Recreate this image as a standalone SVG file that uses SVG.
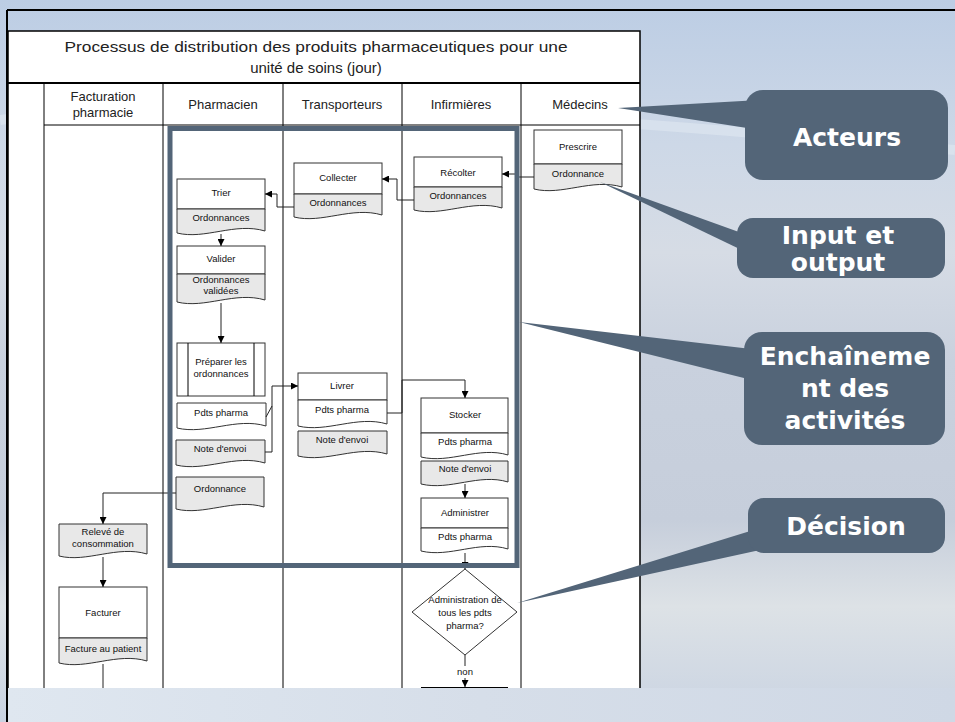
<svg xmlns="http://www.w3.org/2000/svg" width="955" height="722" viewBox="0 0 955 722">
<style>
.ln{stroke:#000;stroke-width:1;fill:none}
.cn{stroke:#222;stroke-width:1;fill:none}
.box{fill:#fff;stroke:#333;stroke-width:1}
.doc{fill:#e8e8e8;stroke:#333;stroke-width:1}
.docw{fill:#fff;stroke:#333;stroke-width:1}
.t{font-family:"Liberation Sans",Arial,sans-serif;font-size:9.5px;text-anchor:middle;fill:#111}
.h{font-family:"Liberation Sans",Arial,sans-serif;font-size:13px;text-anchor:middle;fill:#222}
.ti{font-family:"Liberation Sans",Arial,sans-serif;font-size:15px;text-anchor:middle;fill:#222}
.call{fill:#536578}
.ct{font-family:"DejaVu Sans",sans-serif;font-weight:bold;font-size:25px;fill:#fff;text-anchor:middle}
</style>
<defs>
<linearGradient id="bg" x1="0" y1="0" x2="0" y2="1">
<stop offset="0" stop-color="#bccde4"/>
<stop offset="0.2" stop-color="#cdd8e7"/>
<stop offset="0.35" stop-color="#d6dce5"/>
<stop offset="0.5" stop-color="#c9d1de"/>
<stop offset="0.72" stop-color="#c6cedb"/>
<stop offset="0.84" stop-color="#dde2e6"/>
<stop offset="1" stop-color="#c9d3e2"/>
</linearGradient>
<linearGradient id="band" x1="0" y1="0" x2="1" y2="0">
<stop offset="0" stop-color="#dfe7f0"/>
<stop offset="0.5" stop-color="#d6dee9"/>
<stop offset="1" stop-color="#cfd8e5"/>
</linearGradient>
<marker id="ah" viewBox="0 0 8 8" refX="8" refY="4" markerWidth="7" markerHeight="7" orient="auto" markerUnits="userSpaceOnUse">
<path d="M0,0 L8,4 L0,8 Z" fill="#000"/>
</marker>
</defs>
<rect width="955" height="722" fill="url(#bg)"/>
<path d="M0,120 C200,90 500,110 955,150" stroke="#e4ebf3" stroke-width="10" fill="none" opacity="0.5"/>
<line x1="7" y1="10" x2="955" y2="10" stroke="#000" stroke-width="2"/>

<g id="panel">
<rect x="8" y="31" width="632" height="690" fill="#fff" stroke="#000" stroke-width="1.5"/>
<line x1="8" y1="83" x2="640" y2="83" stroke="#000" stroke-width="2"/>
<text class="ti" x="316" y="52" textLength="503" lengthAdjust="spacingAndGlyphs">Processus de distribution des produits pharmaceutiques pour une</text>
<text class="ti" x="316" y="73">unité de soins (jour)</text>
<line class="ln" x1="44" y1="125" x2="640" y2="125"/>
<line class="ln" x1="44" y1="83" x2="44" y2="690"/>
<line class="ln" x1="163" y1="83" x2="163" y2="690"/>
<line class="ln" x1="283" y1="83" x2="283" y2="690"/>
<line class="ln" x1="402" y1="83" x2="402" y2="690"/>
<line class="ln" x1="521" y1="83" x2="521" y2="690"/>
<text class="h" x="103" y="101">Facturation</text>
<text class="h" x="103" y="117">pharmacie</text>
<text class="h" x="223" y="109">Pharmacien</text>
<text class="h" x="342" y="109">Transporteurs</text>
<text class="h" x="461" y="109">Infirmières</text>
<text class="h" x="580" y="109">Médecins</text>
</g>

<g id="prescrire">
<rect class="box" x="534" y="130" width="88" height="34"/>
<path class="doc" d="M534,164 H622 V187 C592,178 562,196 534,189 Z"/>
<text class="t" x="578" y="150">Prescrire</text>
<text class="t" x="578" y="177">Ordonnance</text>
</g>
<g id="recolter">
<rect class="box" x="414" y="157" width="88" height="30"/>
<path class="doc" d="M414,187 H502 V208 C472,199 442,217 414,210 Z"/>
<text class="t" x="458" y="176">Récolter</text>
<text class="t" x="458" y="199">Ordonnances</text>
</g>
<g id="collecter">
<rect class="box" x="294" y="163" width="88" height="31"/>
<path class="doc" d="M294,194 H382 V215 C352,206 322,224 294,217 Z"/>
<text class="t" x="338" y="181">Collecter</text>
<text class="t" x="338" y="206">Ordonnances</text>
</g>
<g id="trier">
<rect class="box" x="177" y="179" width="88" height="30"/>
<path class="doc" d="M177,209 H265 V231 C235,222 205,240 177,233 Z"/>
<text class="t" x="221" y="196">Trier</text>
<text class="t" x="221" y="221">Ordonnances</text>
</g>
<g id="valider">
<rect class="box" x="177" y="246" width="88" height="28"/>
<path class="doc" d="M177,274 H265 V300 C235,291 205,309 177,302 Z"/>
<text class="t" x="221" y="262">Valider</text>
<text class="t" x="221" y="283">Ordonnances</text>
<text class="t" x="221" y="294">validées</text>
</g>
<g id="preparer">
<rect class="box" x="177" y="343" width="88" height="53"/>
<line class="ln" x1="188" y1="343" x2="188" y2="396" stroke="#333"/>
<line class="ln" x1="254" y1="343" x2="254" y2="396" stroke="#333"/>
<text class="t" x="221" y="365">Préparer les</text>
<text class="t" x="221" y="377">ordonnances</text>
</g>
<g id="pdts-ph">
<path class="docw" d="M177,403 H266 V426 C236,417 206,435 177,428 Z"/>
<text class="t" x="221" y="416">Pdts pharma</text>
</g>
<g id="note-ph">
<path class="doc" d="M176,440 H265 V463 C235,454 205,472 176,465 Z"/>
<text class="t" x="220" y="452">Note d'envoi</text>
</g>
<g id="ordonnance-ph">
<path class="doc" d="M176,477 H264 V507 C234,498 204,516 176,509 Z"/>
<text class="t" x="220" y="492">Ordonnance</text>
</g>
<g id="livrer">
<rect class="box" x="298" y="373" width="89" height="27"/>
<path class="docw" d="M298,400 H387 V424 C357,415 327,433 298,426 Z"/>
<text class="t" x="342" y="389">Livrer</text>
<text class="t" x="342" y="413">Pdts pharma</text>
</g>
<g id="note-tr">
<path class="doc" d="M298,431 H387 V454 C357,445 327,463 298,456 Z"/>
<text class="t" x="342" y="443">Note d'envoi</text>
</g>
<g id="stocker">
<rect class="box" x="421" y="398" width="87" height="35"/>
<path class="docw" d="M421,433 H508 V455 C479,446 450,464 421,457 Z"/>
<text class="t" x="465" y="418">Stocker</text>
<text class="t" x="465" y="445">Pdts pharma</text>
</g>
<g id="note-inf">
<path class="doc" d="M421,461 H508 V482 C479,473 450,491 421,484 Z"/>
<text class="t" x="465" y="472">Note d'envoi</text>
</g>
<g id="administrer">
<rect class="box" x="421" y="498" width="87" height="30"/>
<path class="docw" d="M421,528 H508 V549 C479,540 450,558 421,551 Z"/>
<text class="t" x="465" y="516">Administrer</text>
<text class="t" x="465" y="540">Pdts pharma</text>
</g>
<g id="decision">
<path class="box" d="M465,569 L517,612 L465,655 L412,612 Z"/>
<text class="t" x="465" y="603">Administration de</text>
<text class="t" x="465" y="616">tous les pdts</text>
<text class="t" x="465" y="629">pharma?</text>
<text class="t" x="465" y="675">non</text>
<line x1="421" y1="688" x2="508" y2="688" stroke="#000" stroke-width="2"/>
</g>
<g id="releve">
<path class="doc" d="M59,524 H147 V554 C117,545 87,563 59,556 Z"/>
<text class="t" x="103" y="535">Relevé de</text>
<text class="t" x="103" y="547">consommation</text>
</g>
<g id="facturer">
<rect class="box" x="59" y="587" width="88" height="51"/>
<path class="doc" d="M59,638 H147 V661 C117,652 87,670 59,663 Z"/>
<text class="t" x="103" y="616">Facturer</text>
<text class="t" x="103" y="652">Facture au patient</text>
</g>

<g id="connectors">
<path class="cn" d="M534,177 H518 V174 H502" marker-end="url(#ah)"/>
<path class="cn" d="M414,200 H397 V179 H382" marker-end="url(#ah)"/>
<path class="cn" d="M294,207 H277 V194 H265" marker-end="url(#ah)"/>
<path class="cn" d="M221,234 V246" marker-end="url(#ah)"/>
<path class="cn" d="M221,303 V343" marker-end="url(#ah)"/>
<path class="cn" d="M265,452 H272 V386 H298" marker-end="url(#ah)"/>
<path class="cn" d="M266,417 L272,406"/>
<path class="cn" d="M387,413 H402 V380 H465 V398" marker-end="url(#ah)"/>
<path class="cn" d="M465,484 V498" marker-end="url(#ah)"/>
<path class="cn" d="M465,553 V569" marker-end="url(#ah)"/>
<path class="cn" d="M465,655 V666"/>
<path class="cn" d="M465,678 V687" marker-end="url(#ah)"/>
<path class="cn" d="M176,493 H103 V524" marker-end="url(#ah)"/>
<path class="cn" d="M103,557 V587" marker-end="url(#ah)"/>
<path class="cn" d="M103,664 V690"/>
</g>

<g id="enchainement-frame">
<rect x="170" y="128.5" width="347" height="437" fill="none" stroke="#536578" stroke-width="5"/>
</g>

<rect x="8" y="688" width="947" height="34" fill="url(#band)"/>
<line x1="7" y1="10" x2="7" y2="722" stroke="#000" stroke-width="2"/>

<g id="callout-acteurs">
<polygon class="call" points="618,108 760,100 760,130"/>
<rect class="call" x="745" y="90" width="203" height="90" rx="18"/>
<text class="ct" x="847" y="146">Acteurs</text>
</g>
<g id="callout-input">
<polygon class="call" points="600,182 750,236 750,254"/>
<rect class="call" x="737" y="218" width="208" height="60" rx="16"/>
<text class="ct" x="838" y="244">Input et</text>
<text class="ct" x="838" y="271">output</text>
</g>
<g id="callout-enchainement">
<polygon class="call" points="519,322 760,350 760,382"/>
<rect class="call" x="744" y="332" width="201" height="113" rx="18"/>
<text class="ct" x="845" y="365">Enchaîneme</text>
<text class="ct" x="845" y="397">nt des</text>
<text class="ct" x="845" y="429">activités</text>
</g>
<g id="callout-decision">
<polygon class="call" points="517,603 760,528 760,550"/>
<rect class="call" x="748" y="498" width="197" height="55" rx="16"/>
<text class="ct" x="846" y="535">Décision</text>
</g>
</svg>
